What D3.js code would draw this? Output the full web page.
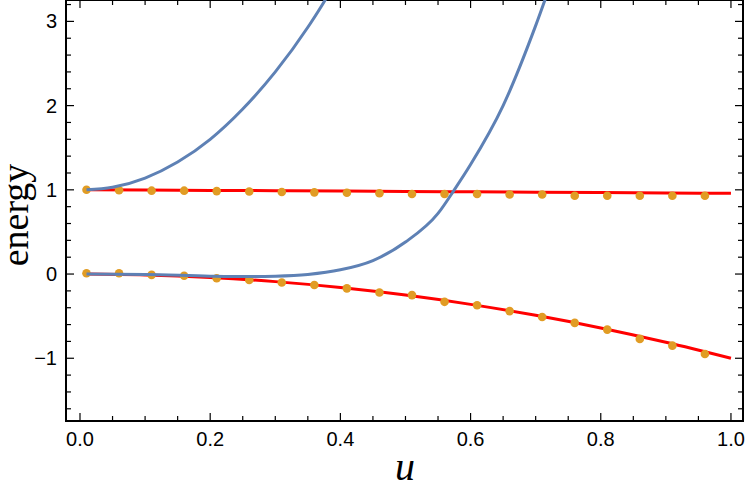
<!DOCTYPE html><html><head><meta charset="utf-8"><script src="https://cdn.jsdelivr.net/npm/d3@7"></script>
<style>body{margin:0;background:#fff}</style></head><body><svg id="c" width="748" height="490"></svg><script>
const blueUpperU=[0.01,0.05,0.1,0.15,0.2,0.25,0.3,0.35,0.38,0.4];
const blueUpperE=[1,1.03,1.14,1.33,1.6,1.96,2.4,2.93,3.3,3.6];
const blueLowerU=[0.01,0.1,0.2,0.25,0.3,0.35,0.4,0.45,0.5,0.55,0.575,0.6,0.65,0.7,0.73];
const blueLowerE=[0,-0.005,-0.025,-0.03,-0.025,-0.005,0.05,0.16,0.38,0.72,1.0,1.3,2.0,2.95,3.6];
const redU=[0.01,0.1,0.2,0.3,0.4,0.5,0.6,0.7,0.8,0.9,1.0];
const redUpperE=[1,0.997,0.993,0.99,0.985,0.98,0.976,0.972,0.967,0.962,0.958];
const redLowerE=[0,-0.01,-0.04,-0.09,-0.16,-0.25,-0.36,-0.49,-0.64,-0.81,-1.0];
const dotU=[0.01,0.06,0.11,0.16,0.21,0.26,0.31,0.36,0.41,0.46,0.51,0.56,0.61,0.66,0.71,0.76,0.81,0.86,0.91,0.96];
const dotUpperE=[1,0.995,0.99,0.99,0.985,0.98,0.975,0.97,0.965,0.96,0.95,0.95,0.95,0.945,0.945,0.93,0.93,0.93,0.93,0.93];
const dotLowerE=[0.01,0.01,-0.01,-0.02,-0.05,-0.07,-0.1,-0.13,-0.17,-0.22,-0.25,-0.33,-0.37,-0.44,-0.51,-0.58,-0.66,-0.77,-0.85,-0.95];
const xTicks=[0,0.2,0.4,0.6,0.8,1.0], yTicks=[-1,0,1,2,3];

const svg=d3.select("#c");
const L=66,R=743,T=0,B=421;
const x=d3.scaleLinear().domain([-0.0215,1.0185]).range([L,R]);
const y=d3.scaleLinear().domain([-1.745,3.254]).range([B,T]);
const g=svg.append("g");
svg.append("defs").append("clipPath").attr("id","cp").append("rect").attr("x",L).attr("y",T).attr("width",R-L).attr("height",B-T);
const pg=svg.append("g").attr("clip-path","url(#cp)");
const line=d3.line().x(d=>x(d[0])).y(d=>y(d[1])).curve(d3.curveMonotoneX);
function draw(us,es,col){pg.append("path").datum(us.map((u,i)=>[u,es[i]])).attr("d",line).attr("fill","none").attr("stroke",col).attr("stroke-width",3);}
draw(redU,redUpperE,"#ff0000");draw(redU,redLowerE,"#ff0000");
[dotUpperE,dotLowerE].forEach(es=>pg.selectAll(null).data(dotU.map((u,i)=>[u,es[i]])).enter().append("circle").attr("cx",d=>x(d[0])).attr("cy",d=>y(d[1])).attr("r",4.3).attr("fill","#e19c24"));
draw(blueUpperU,blueUpperE,"#5e81b5");draw(blueLowerU,blueLowerE,"#5e81b5");

const xMinor=d3.range(0,1.0001,0.05), yMinor=d3.range(-1.6,3.21,0.2);
function isMaj(v,arr){return arr.some(a=>Math.abs(a-v)<1e-6);}
xMinor.forEach(v=>{const len=isMaj(v,xTicks)?8:5;const px=x(v);
 g.append("line").attr("x1",px).attr("x2",px).attr("y1",B).attr("y2",B-len).attr("stroke","#000").attr("stroke-width",1.2);
 g.append("line").attr("x1",px).attr("x2",px).attr("y1",T).attr("y2",T+len).attr("stroke","#000").attr("stroke-width",1.2);});
yMinor.forEach(v=>{const len=isMaj(v,yTicks)?8:5;const py=y(v);
 g.append("line").attr("x1",L).attr("x2",L+len).attr("y1",py).attr("y2",py).attr("stroke","#000").attr("stroke-width",1.2);
 g.append("line").attr("x1",R).attr("x2",R-len).attr("y1",py).attr("y2",py).attr("stroke","#000").attr("stroke-width",1.2);});
g.append("rect").attr("x",L).attr("y",T).attr("width",R-L).attr("height",B-T).attr("fill","none").attr("stroke","#000").attr("stroke-width",2);
xTicks.forEach(v=>g.append("text").attr("x",x(v)).attr("y",446).attr("text-anchor","middle").attr("font-family","Liberation Sans, Arial").attr("font-size",20).text(v.toFixed(1)));
yTicks.forEach(v=>g.append("text").attr("x",57).attr("y",y(v)+7).attr("text-anchor","end").attr("font-family","Liberation Sans, Arial").attr("font-size",20).text(v<0?"\u2212"+(-v):v));
svg.append("text").attr("x",405).attr("y",480).attr("text-anchor","middle").attr("font-family","Liberation Serif, serif").attr("font-style","italic").attr("font-size",40).text("u");
svg.append("text").attr("transform","translate(28,215) rotate(-90)").attr("text-anchor","middle").attr("font-family","Liberation Serif, serif").attr("font-size",38).text("energy");
</script></body></html>
